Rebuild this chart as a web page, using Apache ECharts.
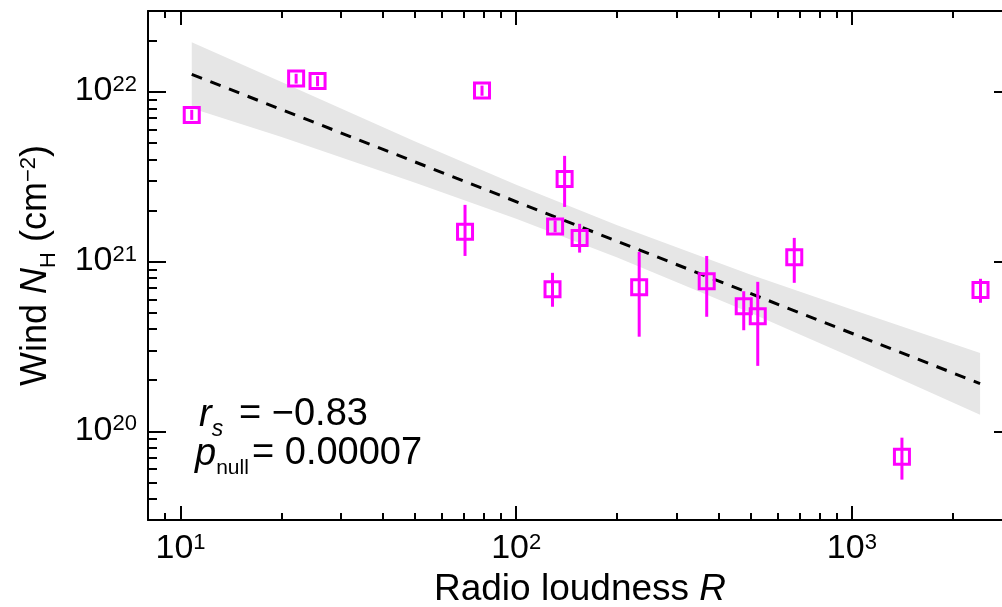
<!DOCTYPE html>
<html>
<head>
<meta charset="utf-8">
<script src="https://cdn.jsdelivr.net/npm/echarts@6/dist/echarts.min.js"></script>
<style>
  html, body { margin: 0; padding: 0; background: #fff; }
  #chart { width: 1002px; height: 607px; }
</style>
</head>
<body>
<div id="chart"></div>
<script>
  // radio loudness R and wind column density N_H (cm^-2), with error bar ends
  const radioR = [10.8, 22.1, 25.6, 79.1, 70.4, 139.4, 130.6, 154.5, 128.3, 232.5, 369.5, 476.3, 524.4, 673.7, 2417, 1410];
  const windNH = [7.32e21, 1.20e22, 1.16e22, 1.02e22, 1.50e21, 3.07e21, 1.61e21, 1.38e21, 6.87e20, 7.06e20, 7.66e20, 5.45e20, 4.76e20, 1.06e21, 6.80e20, 7.09e19];
  const windHi = [7.85e21, 1.28e22, 1.24e22, 1.09e22, 2.16e21, 4.20e21, 1.75e21, 1.67e21, 8.59e20, 1.14e21, 1.08e21, 6.69e20, 7.60e20, 1.38e21, 7.92e20, 9.17e19];
  const windLo = [6.85e21, 1.12e22, 1.08e22, 0.95e22, 1.08e21, 2.10e21, 1.49e21, 1.13e21, 5.42e20, 3.61e20, 4.73e20, 3.94e20, 2.43e20, 7.50e20, 5.72e20, 5.19e19];

  // best fit and its confidence band
  const fitR = [10.8, 2410];
  const fitNH = [1.27e22, 1.91e20];
  const bandR = [10.8, 20, 50, 100, 200, 500, 1000, 2410];
  const bandHi = [1.96e22, 1.145e22, 5.11e21, 2.84e21, 1.64e21, 8.38e20, 5.22e20, 2.89e20];
  const bandLo = [8.02e21, 5.42e21, 2.92e21, 1.79e21, 1.059e21, 4.98e20, 2.73e20, 1.253e20];

  const xTicks = [10, 100, 1000];
  const yTicks = [1e20, 1e21, 1e22];
  const xRange = [8, 3000];
  const yRange = [3e19, 3e22];

  const rsText = '= −0.83';
  const pText = '= 0.00007';

  const FONT = 'Liberation Sans';
  const MAGENTA = '#ff00ff';
  const lg = Math.log10;

  const minorOf = (range) => {
    const out = [];
    for (let e = Math.floor(lg(range[0])); e <= Math.ceil(lg(range[1])); e++) {
      for (let k = 2; k <= 9; k++) {
        const v = k * Math.pow(10, e);
        if (v >= range[0] && v <= range[1]) out.push(lg(v));
      }
    }
    return out;
  };

  const tickRich = {
    b: { fontSize: 34, fontFamily: FONT, color: '#000', lineHeight: 36, verticalAlign: 'top' },
    s: { fontSize: 22, fontFamily: FONT, color: '#000', lineHeight: 22, verticalAlign: 'top' },
  };
  const tickFmt = (v) => '{b|10}{s|' + Math.round(v) + '}';

  // one axis per tick set: major/minor on each side of the frame
  const axis = (range, pos, ticks, len, extra) => Object.assign({
    type: 'value',
    position: pos,
    min: lg(range[0]),
    max: lg(range[1]),
    splitLine: { show: false },
    axisLine: { show: false, onZero: false },
    axisTick: { show: true, inside: true, length: len, customValues: ticks, lineStyle: { color: '#000', width: 2 } },
    axisLabel: { show: false },
  }, extra);

  const frameLine = { show: true, onZero: false, lineStyle: { color: '#000', width: 2 } };

  const chart = echarts.init(document.getElementById('chart'));

  chart.setOption({
    animation: false,
    backgroundColor: '#fff',
    grid: { left: 148, top: 11, width: 864, height: 509, containLabel: false, outerBoundsMode: 'none' },
    xAxis: [
      axis(xRange, 'bottom', xTicks.map(lg), 14, {
        axisLine: frameLine,
        axisLabel: { show: true, customValues: xTicks.map(lg), margin: 12, formatter: tickFmt, rich: tickRich },
        name: '{n|Radio loudness }{i|R}',
        nameLocation: 'middle',
        nameGap: 46,
        nameTextStyle: {
          rich: {
            n: { fontSize: 37, fontFamily: FONT, color: '#000' },
            i: { fontSize: 37, fontFamily: FONT, color: '#000', fontStyle: 'italic' },
          },
        },
      }),
      axis(xRange, 'bottom', minorOf(xRange), 7),
      axis(xRange, 'top', xTicks.map(lg), 14, { axisLine: frameLine }),
      axis(xRange, 'top', minorOf(xRange), 7),
    ],
    yAxis: [
      axis(yRange, 'left', yTicks.map(lg), 18, {
        axisLine: frameLine,
        axisLabel: { show: true, customValues: yTicks.map(lg), margin: 11, formatter: tickFmt, rich: tickRich },
        name: '{n|Wind }{i|N}{sub|H}{n| (cm}{sup|−2}{n|)}',
        nameLocation: 'middle',
        nameRotate: 90,
        nameGap: 92,
        nameTextStyle: {
          rich: {
            n: { fontSize: 36, fontFamily: FONT, color: '#000', lineHeight: 38, verticalAlign: 'top' },
            i: { fontSize: 36, fontFamily: FONT, color: '#000', fontStyle: 'italic', lineHeight: 38, verticalAlign: 'top' },
            sub: { fontSize: 22, fontFamily: FONT, color: '#000', lineHeight: 22, verticalAlign: 'top', padding: [20, 0, 0, 0] },
            sup: { fontSize: 22, fontFamily: FONT, color: '#000', lineHeight: 22, verticalAlign: 'top' },
          },
        },
      }),
      axis(yRange, 'left', minorOf(yRange), 9),
      axis(yRange, 'right', yTicks.map(lg), 18, { axisLine: frameLine }),
      axis(yRange, 'right', minorOf(yRange), 9),
    ],
    graphic: [
      {
        type: 'text', left: 199, top: 396, z: 100,
        style: {
          text: '{i|r}{is|s}',
          rich: {
            i: { fontSize: 38, fontFamily: FONT, fill: '#000', fontStyle: 'italic', lineHeight: 40, verticalAlign: 'top' },
            is: { fontSize: 23, fontFamily: FONT, fill: '#000', fontStyle: 'italic', lineHeight: 23, verticalAlign: 'top', padding: [22, 0, 0, 0] },
          },
        },
      },
      { type: 'text', left: 239, top: 396, z: 100, style: { text: rsText, fontSize: 38, fontFamily: FONT, fill: '#000' } },
      {
        type: 'text', left: 195, top: 435, z: 100,
        style: {
          text: '{i|p}{s|null}',
          rich: {
            i: { fontSize: 38, fontFamily: FONT, fill: '#000', fontStyle: 'italic', lineHeight: 40, verticalAlign: 'top' },
            s: { fontSize: 21, fontFamily: FONT, fill: '#000', lineHeight: 21, verticalAlign: 'top', padding: [23, 0, 0, 0] },
          },
        },
      },
      { type: 'text', left: 252, top: 435, z: 100, style: { text: pText, fontSize: 38, fontFamily: FONT, fill: '#000' } },
    ],
    series: [
      {
        type: 'custom',
        name: 'band',
        silent: true,
        z: 1,
        data: [[lg(bandR[0]), lg(bandHi[0])]],
        renderItem: (params, api) => {
          const upper = bandR.map((r, i) => api.coord([lg(r), lg(bandHi[i])]));
          const lower = bandR.map((r, i) => api.coord([lg(r), lg(bandLo[i])])).reverse();
          return { type: 'polygon', shape: { points: upper.concat(lower) }, style: { fill: '#e6e6e6' } };
        },
      },
      {
        type: 'line',
        name: 'fit',
        z: 2,
        showSymbol: false,
        symbol: 'none',
        data: fitR.map((r, i) => [lg(r), lg(fitNH[i])]),
        lineStyle: { color: '#000', width: 3, type: [11, 9] },
      },
      {
        type: 'custom',
        name: 'errors',
        z: 3,
        encode: { x: 0, y: [1, 2] },
        data: radioR.map((r, i) => [lg(r), lg(windLo[i]), lg(windHi[i])]),
        renderItem: (params, api) => {
          const p1 = api.coord([api.value(0), api.value(1)]);
          const p2 = api.coord([api.value(0), api.value(2)]);
          return {
            type: 'line',
            shape: { x1: p1[0], y1: p1[1], x2: p2[0], y2: p2[1] },
            style: { stroke: MAGENTA, lineWidth: 3 },
          };
        },
      },
      {
        type: 'scatter',
        name: 'sources',
        z: 4,
        symbol: 'rect',
        symbolSize: 15,
        data: radioR.map((r, i) => [lg(r), lg(windNH[i])]),
        itemStyle: { color: 'transparent', borderColor: MAGENTA, borderWidth: 3, opacity: 1 },
      },
    ],
  });
</script>
</body>
</html>
